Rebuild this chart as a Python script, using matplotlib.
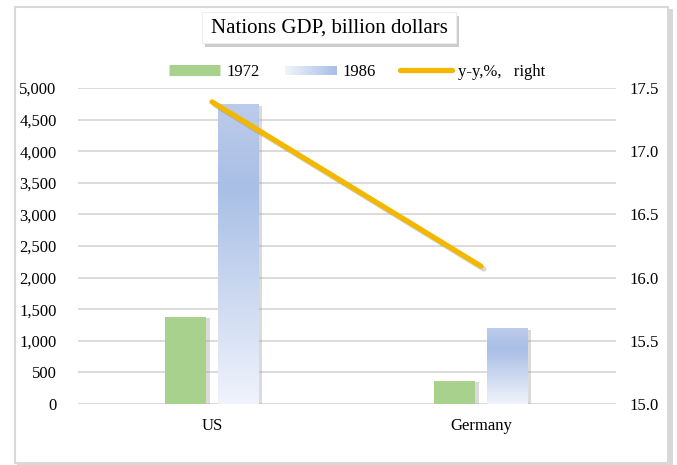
import numpy as np
import matplotlib
matplotlib.use('Agg')
import matplotlib.pyplot as plt
import matplotlib.patheffects as pe
from matplotlib.colors import LinearSegmentedColormap
from matplotlib.lines import Line2D
from matplotlib.patches import Rectangle
from matplotlib.legend_handler import HandlerBase
from matplotlib.ticker import FuncFormatter

plt.rcParams['font.family'] = ['Liberation Serif', 'DejaVu Serif']

# data
countries = ['US', 'Germany']
gdp_1972 = [1380, 370]
gdp_1986 = [4745, 1200]
yy_pct = [17.39, 16.09]
series_names = ['1972', '1986', 'y-y,%,   right']

green = '#a9d18e'
yellow = '#f2b800'
blue_cmap = LinearSegmentedColormap.from_list(
    'blue_grad', [(0, '#f0f3fb'), (0.72, '#a9bfe6'), (1, '#bccbeb')])

fig = plt.figure(figsize=(6.77, 4.65), dpi=100)

# outer frame with shadow
fig.patches.append(Rectangle((17 / 677, 0.0), 656 / 677, 1 - 9 / 465,
                             transform=fig.transFigure, facecolor='#bdbdbd',
                             edgecolor='none', alpha=0.6, zorder=-3))
fig.patches.append(Rectangle((15 / 677, 2 / 465), 653 / 677, 1 - 9 / 465,
                             transform=fig.transFigure, facecolor='white',
                             edgecolor='#d9d9d9', lw=1.5, zorder=-2))

ax = fig.add_axes([77.5 / 677, 61 / 465, 538 / 677, 316 / 465])
ax2 = ax.twinx()

x = np.arange(len(countries))
w = 0.152
off = 0.097

shadow = [pe.SimplePatchShadow(offset=(2.5, -1), shadow_rgbFace='#999999', alpha=0.35),
          pe.Normal()]
b1 = ax.bar(x - off, gdp_1972, w, color=green, zorder=2, path_effects=shadow)
b2 = ax.bar(x + off, gdp_1986, w, color='white', zorder=2, path_effects=shadow)

grad = np.linspace(0, 1, 256).reshape(-1, 1)
for bar in b2:
    x0, h, bw = bar.get_x(), bar.get_height(), bar.get_width()
    im = ax.imshow(grad, cmap=blue_cmap, origin='lower', aspect='auto',
                   extent=[x0, x0 + bw, 0, h], zorder=3, interpolation='bilinear')
    im.set_clip_path(bar)

ax.set_xlim(-0.5, len(countries) - 0.5)
ax.set_ylim(0, 5000)
ax.set_yticks(np.arange(0, 5001, 500))
ax.yaxis.set_major_formatter(FuncFormatter(lambda v, p: f'{int(v):,}'))
ax.set_xticks(x)
ax.set_xticklabels(countries)
ax.grid(axis='y', color='#d9d9d9', lw=1.3, zorder=0)
ax.set_axisbelow(True)

ax2.plot(x, yy_pct, color=yellow, lw=3.8, solid_capstyle='round', zorder=4,
         path_effects=[pe.SimpleLineShadow(offset=(2, -2), shadow_color='#777777', alpha=0.3),
                       pe.Normal()])
ax2.set_ylim(15, 17.5)
ax2.set_yticks(np.arange(15, 17.51, 0.5))
ax2.yaxis.set_major_formatter(FuncFormatter(lambda v, p: f'{v:.1f}'))

for a in (ax, ax2):
    for s in a.spines.values():
        s.set_visible(False)
    a.tick_params(length=0, labelsize=12, colors='#000000')
ax.tick_params(axis='x', pad=10)
ax.tick_params(axis='y', pad=15)
ax2.tick_params(axis='y', pad=10)
ax.set_zorder(1)
ax2.set_zorder(2)
ax.patch.set_visible(False)


class GradHandler(HandlerBase):
    def create_artists(self, legend, orig, xd, yd, width, height, fontsize, trans):
        n = 30
        arts = []
        for i in range(n):
            r = Rectangle((xd + width * i / n, yd + height * 0.12), width / n + 0.3,
                          height * 0.76, facecolor=blue_cmap(0.72 * i / (n - 1)),
                          edgecolor='none', transform=trans)
            arts.append(r)
        return arts


h1 = Line2D([], [], color=green, lw=8, solid_capstyle='butt')
h2 = Rectangle((0, 0), 1, 1)
h3 = Line2D([], [], color=yellow, lw=3.8, solid_capstyle='round')
fig.legend([h1, h2, h3], series_names, loc='center', bbox_to_anchor=(357 / 677, 1 - 72 / 465),
           ncol=3, frameon=False, fontsize=12, handlelength=3.1, handletextpad=0.35,
           columnspacing=1.5, handler_map={Rectangle: GradHandler()})

# title box with shadow
fig.patches.append(Rectangle((205 / 677, 1 - 47 / 465), 254 / 677, 31 / 465,
                             transform=fig.transFigure, facecolor='#9a9a9a',
                             edgecolor='none', alpha=0.5, zorder=1))
fig.patches.append(Rectangle((202 / 677, 1 - 43 / 465), 254 / 677, 31 / 465,
                             transform=fig.transFigure, facecolor='white',
                             edgecolor='#eeeeee', lw=0.8, zorder=2))
fig.text(329 / 677, 1 - 28 / 465, 'Nations GDP, billion dollars', ha='center', va='center',
         fontsize=15, zorder=3)

fig.savefig('out.png', dpi=100)
